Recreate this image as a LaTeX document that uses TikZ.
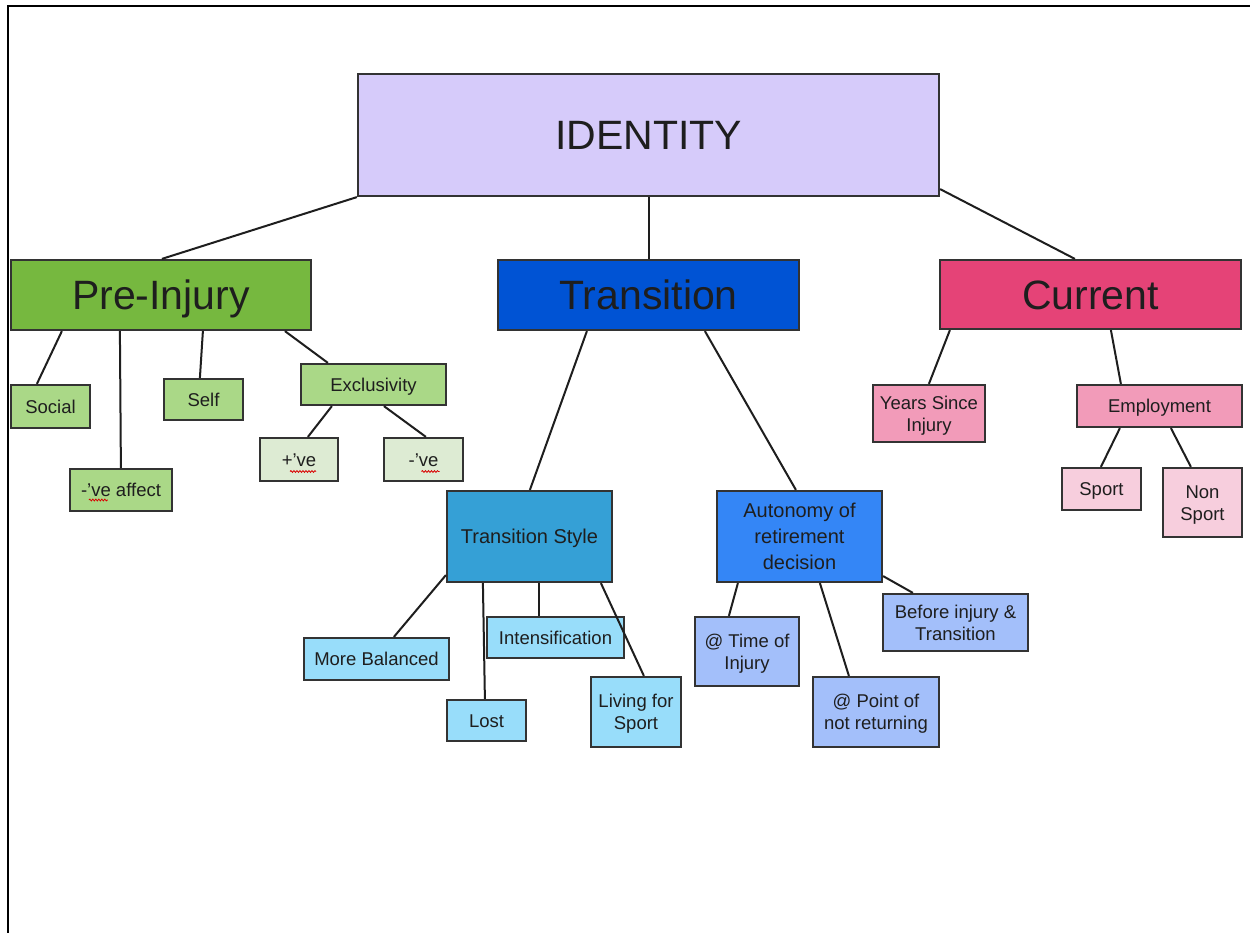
\documentclass[tikz,border=0pt]{standalone}
\usepackage{fontspec}
\setmainfont{Liberation Sans}
\usetikzlibrary{decorations.pathmorphing}
\definecolor{bordc}{HTML}{333333}
\definecolor{txtc}{HTML}{1E1E1E}
\definecolor{cId}{HTML}{D6CBFA}
\definecolor{cPre}{HTML}{76B83F}
\definecolor{cTrans}{HTML}{0053D4}
\definecolor{cCur}{HTML}{E54377}
\definecolor{cGreen}{HTML}{AAD887}
\definecolor{cPale}{HTML}{DDEBD3}
\definecolor{cTS}{HTML}{35A0D6}
\definecolor{cAuto}{HTML}{3486F6}
\definecolor{cCyan}{HTML}{98DDFA}
\definecolor{cPeri}{HTML}{A3BFFA}
\definecolor{cPink}{HTML}{F29BB9}
\definecolor{cPinkL}{HTML}{F7CEDD}
\tikzset{
  box/.style={draw=bordc, line width=2.2pt, inner sep=0pt, align=center, text=txtc},
  big/.style={font=\fontsize{41}{46}\selectfont, text height=29.4pt, text depth=0pt},
  small/.style={font=\fontsize{18.5}{22}\selectfont},
  oneline/.style={text height=13.2pt, text depth=0pt},
  twoline/.style={text height=35.2pt, text depth=0pt},
  mid/.style={font=\fontsize{20}{26}\selectfont},
  conn/.style={draw=txtc, line width=2pt},
  squig/.style={draw=red!85!black, line width=0.8pt, decorate, decoration={snake, amplitude=0.9pt, segment length=3pt}}
}
\begin{document}
\begin{tikzpicture}[x=1pt, y=-1pt]
\useasboundingbox (0,0) rectangle (1250,933);
\fill[white] (0,0) rectangle (1250,933);
\draw[line width=2pt, black] (7.5,933) -- (7.5,6.5) -- (1250,6.5);

% top level
\node[box, big, fill=cId, minimum width=581, minimum height=122] (id) at (648.5,135) {IDENTITY};
\node[box, big, fill=cPre, minimum width=300, minimum height=70] (pre) at (161,295) {Pre-Injury};
\node[box, big, fill=cTrans, minimum width=301, minimum height=70] (trans) at (648.5,295) {Transition};
\node[box, big, fill=cCur, minimum width=301, minimum height=69] (cur) at (1090.5,294.5) {Current};

% pre-injury
\node[box, small, oneline, fill=cGreen, minimum width=79, minimum height=43] (social) at (50.5,406.5) {Social};
\node[box, small, oneline, fill=cGreen, minimum width=102, minimum height=42] (affect) at (121,490) {-’ve affect};
\node[box, small, oneline, fill=cGreen, minimum width=79, minimum height=41] (self) at (203.5,399.5) {Self};
\node[box, small, oneline, fill=cGreen, minimum width=145, minimum height=41] (excl) at (373.5,384.5) {Exclusivity};
\node[box, small, oneline, fill=cPale, minimum width=78, minimum height=43] (pos) at (299,459.5) {+’ve};
\node[box, small, oneline, fill=cPale, minimum width=79, minimum height=43] (neg) at (423.5,459.5) {-’ve};

% transition
\node[box, mid, text height=14.3pt, text depth=0pt, fill=cTS, minimum width=165, minimum height=91] (ts) at (529.5,536.5) {Transition Style};
\node[box, mid, fill=cAuto, minimum width=165, minimum height=91] (auto) at (799.5,536.5) {Autonomy of\\retirement\\decision};
\node[box, small, oneline, fill=cCyan, minimum width=145, minimum height=42] (mb) at (376.5,659) {More Balanced};
\node[box, small, oneline, fill=cCyan, minimum width=79, minimum height=41] (lost) at (486.5,720.5) {Lost};
\node[box, small, oneline, fill=cCyan, minimum width=137, minimum height=41] (int) at (555.5,637.5) {Intensification};
\node[box, small, twoline, fill=cCyan, minimum width=90, minimum height=70] (liv) at (636,712) {Living for\\Sport};
\node[box, small, twoline, fill=cPeri, minimum width=104, minimum height=69] (time) at (747,651.5) {@ Time of\\Injury};
\node[box, small, twoline, fill=cPeri, minimum width=126, minimum height=70] (point) at (876,712) {@ Point of\\not returning};
\node[box, small, twoline, fill=cPeri, minimum width=145, minimum height=57] (before) at (955.5,622.5) {Before injury \&\\Transition};

% current
\node[box, small, twoline, fill=cPink, minimum width=112, minimum height=57] (years) at (929,413.5) {Years Since\\Injury};
\node[box, small, oneline, fill=cPink, minimum width=165, minimum height=42] (emp) at (1159.5,406) {Employment};
\node[box, small, oneline, fill=cPinkL, minimum width=79, minimum height=42] (sport) at (1101.5,489) {Sport};
\node[box, small, twoline, fill=cPinkL, minimum width=79, minimum height=69] (non) at (1202.5,502.5) {Non\\Sport};

% connectors
\draw[conn] (id.south west) -- ([xshift=152pt]pre.north west);
\draw[conn] (id.south) -- (trans.north);
\draw[conn] ([yshift=8pt]id.south east) -- ([xshift=136pt]cur.north west);

\draw[conn] ([xshift=52pt]pre.south west) -- ([xshift=27pt]social.north west);
\draw[conn] ([xshift=110pt]pre.south west) -- ([xshift=52pt]affect.north west);
\draw[conn] ([xshift=193pt]pre.south west) -- ([xshift=37pt]self.north west);
\draw[conn] ([xshift=275pt]pre.south west) -- ([xshift=28pt]excl.north west);
\draw[conn] ([xshift=32pt]excl.south west) -- ([xshift=49pt]pos.north west);
\draw[conn] ([xshift=84pt]excl.south west) -- ([xshift=43pt]neg.north west);

\draw[conn] ([xshift=90pt]trans.south west) -- ([xshift=84pt]ts.north west);
\draw[conn] ([xshift=208pt]trans.south west) -- ([xshift=80pt]auto.north west);

\draw[conn] ([yshift=8pt]ts.south west) -- ([xshift=91pt]mb.north west);
\draw[conn] ([xshift=37pt]ts.south west) -- ([xshift=39pt]lost.north west);
\draw[conn] ([xshift=93pt]ts.south west) -- ([xshift=53pt]int.north west);
\draw[conn] ([xshift=155pt]ts.south west) -- ([xshift=54pt]liv.north west);

\draw[conn] ([xshift=22pt]auto.south west) -- ([xshift=35pt]time.north west);
\draw[conn] ([xshift=104pt]auto.south west) -- ([xshift=37pt]point.north west);
\draw[conn] ([yshift=7pt]auto.south east) -- ([xshift=31pt]before.north west);

\draw[conn] ([xshift=11pt]cur.south west) -- ([xshift=57pt]years.north west);
\draw[conn] ([xshift=172pt]cur.south west) -- ([xshift=45pt]emp.north west);
\draw[conn] ([xshift=44pt]emp.south west) -- ([xshift=40pt]sport.north west);
\draw[conn] ([xshift=95pt]emp.south west) -- ([xshift=29pt]non.north west);

% spell-check underlines
\draw[squig] ([xshift=20pt,yshift=-10pt]affect.west) -- ([xshift=39pt,yshift=-10pt]affect.west);
\draw[squig] ([xshift=-9pt,yshift=-12pt]pos.center) -- ([xshift=17pt,yshift=-12pt]pos.center);
\draw[squig] ([xshift=-2pt,yshift=-12pt]neg.center) -- ([xshift=16pt,yshift=-12pt]neg.center);
\end{tikzpicture}
\end{document}
